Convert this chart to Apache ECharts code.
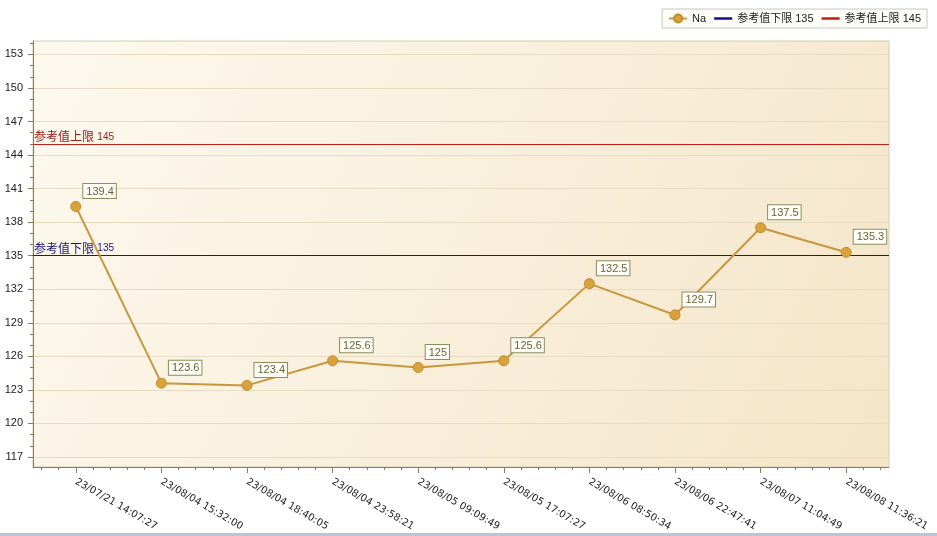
<!DOCTYPE html>
<html>
<head>
<meta charset="utf-8">
<script src="https://cdn.jsdelivr.net/npm/echarts@6/dist/echarts.min.js"></script>
<style>
html,body{margin:0;padding:0;background:#fff;}
#chart{width:937px;height:536px;}
</style>
</head>
<body>
<div id="chart"></div>
<script>
var categories = ['23/07/21 14:07:27','23/08/04 15:32:00','23/08/04 18:40:05','23/08/04 23:58:21','23/08/05 09:09:49','23/08/05 17:07:27','23/08/06 08:50:34','23/08/06 22:47:41','23/08/07 11:04:49','23/08/08 11:36:21'];
var naValues = [139.4, 123.6, 123.4, 125.6, 125, 125.6, 132.5, 129.7, 137.5, 135.3];
var yTickLabels = [117, 120, 123, 126, 129, 132, 135, 138, 141, 144, 147, 150, 153];
var lowerLimit = 135;
var upperLimit = 145;
var seriesName = 'Na';
var lowerName = '参考值下限';
var upperName = '参考值上限';

var yMin = 116.1, yMax = 154.2;
var yMinorTicks = [];
for (var v = 117; v <= 154; v++) yMinorTicks.push(v);
var xMinorCats = [];
for (var i = 0; i < categories.length * 5; i++) xMinorCats.push('');

var latin = 'Liberation Sans, "Noto Sans CJK SC", sans-serif';
var axisColor = '#8a7c55';
var barIcon = 'path://M0,0 L18,0 L18,2.5 L0,2.5 Z';

var chart = echarts.init(document.getElementById('chart'), null, {renderer: 'canvas'});
chart.setOption({
  backgroundColor: '#ffffff',
  animation: false,
  textStyle: {fontFamily: latin},
  legend: {
    right: 10, top: 9,
    padding: [4, 6, 4, 6],
    itemGap: 8,
    itemWidth: 18, itemHeight: 10,
    backgroundColor: '#fdfcf8',
    borderColor: '#c8c8c0',
    borderWidth: 1,
    textStyle: {fontSize: 11, color: '#222', fontFamily: latin},
    data: [
      {name: seriesName},
      {name: lowerName + ' ' + lowerLimit, icon: barIcon},
      {name: upperName + ' ' + upperLimit, icon: barIcon}
    ]
  },
  grid: {
    left: 33, right: 48, top: 41, bottom: 69,
    show: true,
    borderColor: '#d6cdb2',
    borderWidth: 1,
    backgroundColor: new echarts.graphic.LinearGradient(0, 0, 1, 1, [
      {offset: 0, color: '#fdf9ef'},
      {offset: 1, color: '#f4e5c8'}
    ])
  },
  xAxis: [{
    type: 'category',
    data: categories,
    boundaryGap: true,
    axisLine: {show: true, lineStyle: {color: axisColor, width: 1}},
    axisTick: {show: true, alignWithLabel: true, interval: 0, length: 6, lineStyle: {color: axisColor}},
    axisLabel: {
      interval: 0, rotate: -30, margin: 14,
      fontFamily: 'DejaVu Sans', fontSize: 10, color: '#222'
    },
    splitLine: {show: false}
  }, {
    type: 'category',
    data: xMinorCats,
    boundaryGap: true,
    position: 'bottom',
    axisLine: {show: false},
    axisTick: {show: true, alignWithLabel: true, interval: 0, length: 3, lineStyle: {color: axisColor}},
    axisLabel: {show: false},
    splitLine: {show: false}
  }],
  yAxis: [{
    type: 'value',
    min: yMin, max: yMax,
    axisLine: {show: true, lineStyle: {color: axisColor, width: 1}},
    axisTick: {show: true, length: 5, customValues: yTickLabels, lineStyle: {color: axisColor}},
    axisLabel: {customValues: yTickLabels, margin: 10, fontFamily: latin, fontSize: 11, color: '#222'},
    splitLine: {show: true, lineStyle: {color: '#e6dcc4', width: 1}}
  }, {
    type: 'value',
    min: yMin, max: yMax,
    position: 'left',
    axisLine: {show: false},
    axisTick: {show: true, length: 3, customValues: yMinorTicks, lineStyle: {color: axisColor}},
    axisLabel: {show: false},
    splitLine: {show: false}
  }],
  series: [{
    name: seriesName,
    type: 'line',
    data: naValues,
    symbol: 'circle',
    symbolSize: 10,
    lineStyle: {color: '#c9973c', width: 2},
    itemStyle: {color: '#daa23a', borderColor: '#c08a2e', borderWidth: 1},
    label: {
      show: true,
      position: [13, -17],
      formatter: '{c}',
      fontFamily: latin, fontSize: 11,
      color: '#66663f',
      backgroundColor: '#fffef6',
      borderColor: '#8c8c5e',
      borderWidth: 1,
      padding: [2, 2, 1, 3]
    },
    z: 5
  }, {
    name: lowerName + ' ' + lowerLimit,
    type: 'line',
    data: [],
    symbol: 'none',
    lineStyle: {color: '#10108a', width: 2},
    itemStyle: {color: '#10108a'},
    markLine: {
      silent: true,
      symbol: 'none',
      data: [{yAxis: lowerLimit}],
      lineStyle: {color: '#14149a', width: 1, type: 'solid'},
      label: {
        position: 'insideStartTop',
        distance: [1, 1],
        formatter: '{a|' + lowerName + '} {b|' + lowerLimit + '}',
        rich: {
          a: {fontFamily: '"Noto Sans CJK SC", sans-serif', fontSize: 12, color: '#16167a'},
          b: {fontFamily: latin, fontSize: 10, color: '#16167a'}
        }
      }
    }
  }, {
    name: upperName + ' ' + upperLimit,
    type: 'line',
    data: [],
    symbol: 'none',
    lineStyle: {color: '#c41a1a', width: 2},
    itemStyle: {color: '#c41a1a'},
    markLine: {
      silent: true,
      symbol: 'none',
      data: [{yAxis: upperLimit}],
      lineStyle: {color: '#c0201a', width: 1, type: 'solid'},
      label: {
        position: 'insideStartTop',
        distance: [1, 1],
        formatter: '{a|' + upperName + '} {b|' + upperLimit + '}',
        rich: {
          a: {fontFamily: '"Noto Sans CJK SC", sans-serif', fontSize: 12, color: '#a01818'},
          b: {fontFamily: latin, fontSize: 10, color: '#a01818'}
        }
      }
    }
  }],
  graphic: [{
    type: 'rect',
    left: 0, top: 533,
    shape: {width: 937, height: 3},
    style: {fill: '#b8c6d8'},
    silent: true
  }]
});
</script>
</body>
</html>
